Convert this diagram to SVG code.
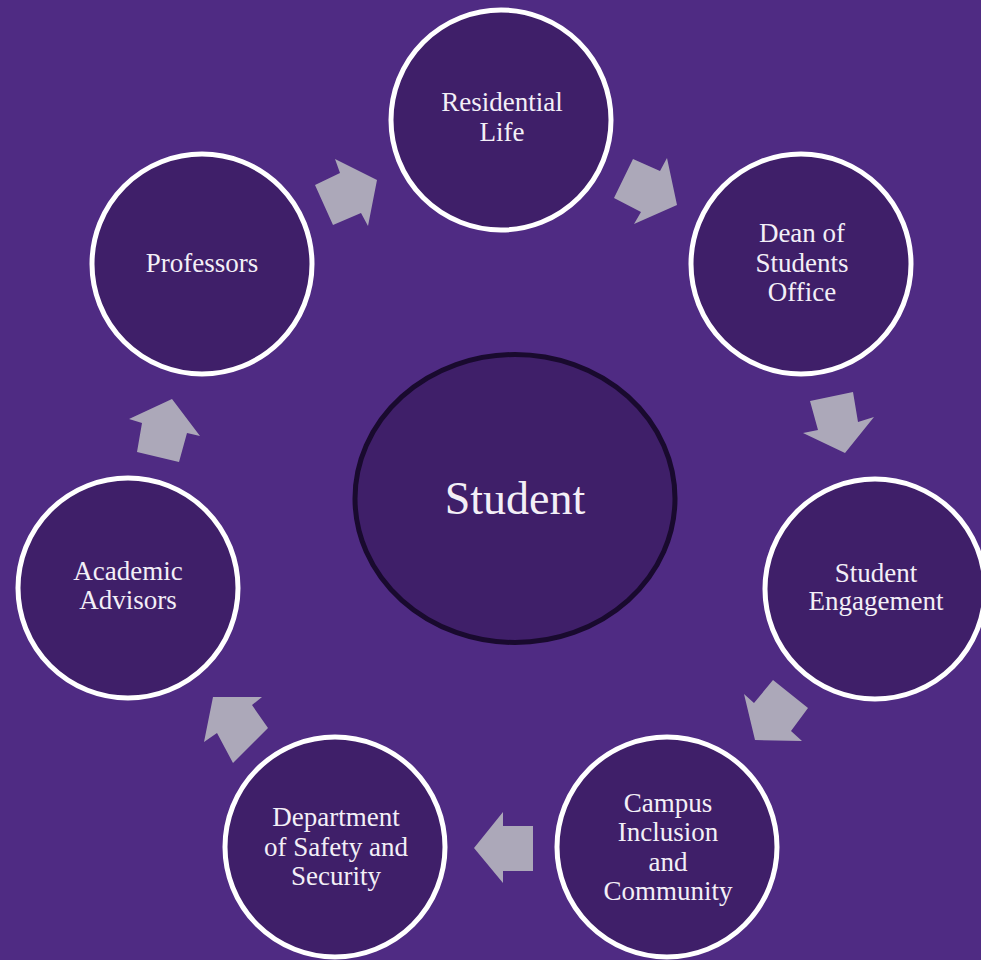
<svg xmlns="http://www.w3.org/2000/svg" width="981" height="960" viewBox="0 0 981 960">
<style>
.bg{fill:#4f2b83}
.node{fill:#3f1f69;stroke:#ffffff;stroke-width:5}
.center{fill:#3f1f69;stroke:#190a2e;stroke-width:5}
.arrow{fill:#aca8b9;stroke:none}
text{font-family:"Liberation Serif","DejaVu Serif",serif;fill:#f3eff7;text-anchor:middle}
.lbl{font-size:27px}
.big{font-size:46px}
</style>
<rect class="bg" x="0" y="0" width="981" height="960"/>
<g id="connectors">
<polygon class="arrow" points="315,185 340,173 335,159 377,180 368,226 361,213 333,225"/>
<polygon class="arrow" points="633,159 660,171 667,158 677,205 634,224 641,212 614,198"/>
<polygon class="arrow" points="853,392 858,422 874,417 845,453 803,433 818,430 810,401"/>
<polygon class="arrow" points="773,680 808,708 791,731 802,741 755,740 744,694 754,703"/>
<polygon class="arrow" points="533,826 503,826 503,812 474,848 503,883 503,871 533,871"/>
<polygon class="arrow" points="268,728 233,763 217,733 204,742 213,697 262,697 252,705"/>
<polygon class="arrow" points="137,452 179,462 187,433 200,436 172,399 129,419 142,423"/>
</g>
<g id="student">
<ellipse class="center" cx="515" cy="498.5" rx="160" ry="144"/>
<text class="big" x="515" y="514">Student</text>
</g>
<g id="residential-life">
<circle class="node" cx="501" cy="120" r="110"/>
<text class="lbl" x="502" y="111">Residential</text>
<text class="lbl" x="502" y="141">Life</text>
</g>
<g id="dean-of-students">
<circle class="node" cx="801" cy="264" r="110"/>
<text class="lbl" x="802" y="242">Dean of</text>
<text class="lbl" x="802" y="272">Students</text>
<text class="lbl" x="802" y="301">Office</text>
</g>
<g id="student-engagement">
<circle class="node" cx="875" cy="589" r="110"/>
<text class="lbl" x="876" y="582">Student</text>
<text class="lbl" x="876" y="610">Engagement</text>
</g>
<g id="campus-inclusion">
<circle class="node" cx="667" cy="847" r="110"/>
<text class="lbl" x="668" y="812">Campus</text>
<text class="lbl" x="668" y="841">Inclusion</text>
<text class="lbl" x="668" y="871">and</text>
<text class="lbl" x="668" y="900">Community</text>
</g>
<g id="safety-security">
<circle class="node" cx="335" cy="847" r="110"/>
<text class="lbl" x="336" y="826">Department</text>
<text class="lbl" x="336" y="856">of Safety and</text>
<text class="lbl" x="336" y="885">Security</text>
</g>
<g id="academic-advisors">
<circle class="node" cx="128" cy="588" r="110"/>
<text class="lbl" x="128" y="580">Academic</text>
<text class="lbl" x="128" y="609">Advisors</text>
</g>
<g id="professors">
<circle class="node" cx="202" cy="264" r="110"/>
<text class="lbl" x="202" y="272">Professors</text>
</g>
</svg>
